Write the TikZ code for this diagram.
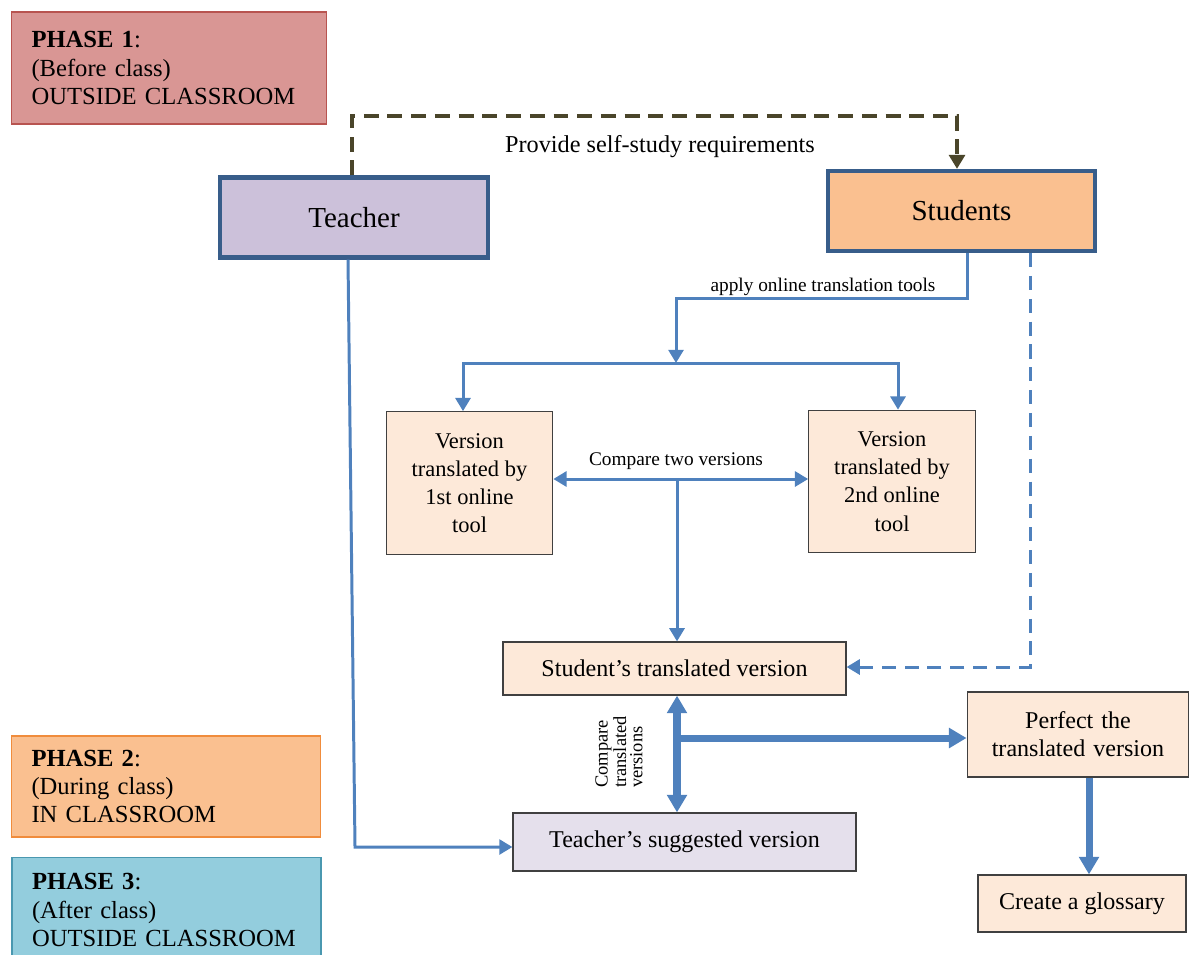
\documentclass[tikz,border=0pt]{standalone}
\usepackage{fontspec}
\setmainfont{Liberation Serif}
\usetikzlibrary{positioning, arrows.meta, calc}
\usepackage{xcolor}
\definecolor{phaseone}{HTML}{D99694}
\definecolor{phaseoneline}{HTML}{B85450}
\definecolor{phasetwo}{HTML}{FAC090}
\definecolor{phasetwoline}{HTML}{F08C3C}
\definecolor{phasethree}{HTML}{93CDDD}
\definecolor{phasethreeline}{HTML}{4A98B0}
\definecolor{rolelilac}{HTML}{CCC1DA}
\definecolor{roleline}{HTML}{385D8A}
\definecolor{stepfill}{HTML}{FDE9D9}
\definecolor{suggestfill}{HTML}{E5E0EC}
\definecolor{stepline}{HTML}{404040}
\definecolor{flowblue}{HTML}{4F81BD}
\definecolor{reqolive}{HTML}{4A452A}

\tikzset{
  phasebox/.style={draw, line width=0.8pt, align=left, text width=5.5cm, inner xsep=0.4cm,
    minimum height=2.05cm, font=\fontsize{14}{16}\selectfont},
  rolebox/.style={draw=roleline, line width=2.4pt, minimum width=5.35cm, minimum height=1.6cm,
    font=\fontsize{16.5}{19}\selectfont},
  stepbox/.style={draw=stepline, fill=stepfill, line width=0.7pt, align=center,
    font=\fontsize{13.7}{16}\selectfont},
  versionbox/.style={stepbox, minimum width=3.33cm, minimum height=2.85cm,
    font=\fontsize{12.8}{16}\selectfont},
  flowline/.style={draw=flowblue, line width=1.7pt},
  flowarrow/.style={flowline, -{Triangle[width=8.5pt,length=7.5pt]}},
  flowboth/.style={flowline, {Triangle[width=8.5pt,length=7.5pt]}-{Triangle[width=8.5pt,length=7.5pt]}},
  heavyarrow/.style={draw=flowblue, line width=4pt, -{Triangle[width=11pt,length=10pt]}},
  heavyboth/.style={draw=flowblue, line width=4pt,
    {Triangle[width=11pt,length=10pt]}-{Triangle[width=11pt,length=10pt]}},
  reqline/.style={draw=reqolive, line width=2.8pt, dash pattern=on 8.5pt off 5pt,
    -{Triangle[width=9pt,length=8pt]}},
  studentdash/.style={draw=flowblue, line width=1.7pt, dash pattern=on 8pt off 5pt,
    -{Triangle[width=8.5pt,length=7.5pt]}},
  smalllabel/.style={font=\fontsize{11}{13}\selectfont, inner sep=1pt}
}

\begin{document}
\begin{tikzpicture}[x=0.02cm, y=-0.02cm]
  \useasboundingbox (0,0) rectangle (1189,954);

  % phases
  \node[phasebox, fill=phaseone, draw=phaseoneline, minimum height=2.24cm] (phase1) at (169,68)
    {\textbf{PHASE 1}:\\(Before class)\\OUTSIDE CLASSROOM};
  \node[phasebox, fill=phasetwo, draw=phasetwoline, text width=5.38cm, minimum height=2.02cm] (phase2) at (166,786.5)
    {\textbf{PHASE 2}:\\(During class)\\IN CLASSROOM};
  \node[phasebox, fill=phasethree, draw=phasethreeline, text width=5.38cm, minimum height=2.1cm] (phase3) at (166.5,910)
    {\textbf{PHASE 3}:\\(After class)\\OUTSIDE CLASSROOM};

  % roles
  \node[rolebox, fill=rolelilac] (teacher) at (354,217.5) {Teacher};
  \node[rolebox, fill=phasetwo] (students) at (961.5,211) {Students};

  % steps
  \node[versionbox] (v1) at (469.5,483) {Version\\translated by\\1st online\\tool};
  \node[versionbox] (v2) at (892,481.5) {Version\\translated by\\2nd online\\tool};
  \node[stepbox, minimum width=6.86cm, minimum height=1.06cm] (stv) at (674.5,668.5) {Student’s translated version};
  \node[stepbox, fill=suggestfill, minimum width=6.86cm, minimum height=1.16cm] (tsv) at (684.5,842) {Teacher’s suggested version};
  \node[stepbox, text width=4.2cm, minimum width=4.42cm, minimum height=1.7cm] (perfect) at (1078,734.5) {Perfect the\\translated version};
  \node[stepbox, minimum width=4.16cm, minimum height=1.14cm] (glossary) at (1082,903.5) {Create a glossary};

  % self-study requirements
  \coordinate (req) at (660,116);
  \draw[reqline] ([xshift=-0.04cm]teacher.north) |- (req) -| ([xshift=-0.09cm]students.north);
  \node[font=\fontsize{13.8}{16}\selectfont] (reqlabel) at (660,147) {Provide self-study requirements};

  % online tools
  \coordinate (applyturn) at (676,298);
  \coordinate (split) at (676,363);
  \draw[flowarrow] ([xshift=0.11cm]students.south) |- (applyturn) -- (split);
  \node[smalllabel] (applylabel) at (823,287) {apply online translation tools};
  \draw[flowarrow] (split) -| ([xshift=-0.13cm]v1.north);
  \draw[flowarrow] (split) -| ([xshift=0.12cm]v2.north);

  % compare two versions
  \coordinate (cmp) at (677,479);
  \draw[flowboth] (cmp -| v1.east) -- (cmp -| v2.west);
  \node[smalllabel] (cmplabel) at (676,461) {Compare two versions};
  \draw[flowarrow] (cmp) -- (cmp |- stv.north);

  % students own version
  \coordinate (dturn) at (1030,667);
  \draw[studentdash] (students.south -| dturn) -- (dturn) -- (dturn -| stv.east);

  % teacher suggestion
  \coordinate (tturn) at (355,847);
  \draw[flowarrow] ([xshift=-0.12cm]teacher.south) -- (tturn) -- (tturn -| tsv.west);

  % compare translated versions
  \coordinate (branch) at (677,738);
  \draw[heavyboth] (stv.south -| branch) -- (tsv.north -| branch);
  \node[rotate=90, align=left, font=\fontsize{10.5}{9.2}\selectfont] (comparelabel) at (619,752)
    {Compare\\translated\\versions};
  \draw[heavyarrow] (branch) -- (branch -| perfect.west);
  \draw[heavyarrow] ([xshift=0.22cm]perfect.south) -- ([xshift=0.22cm]perfect.south |- glossary.north);
\end{tikzpicture}
\end{document}
